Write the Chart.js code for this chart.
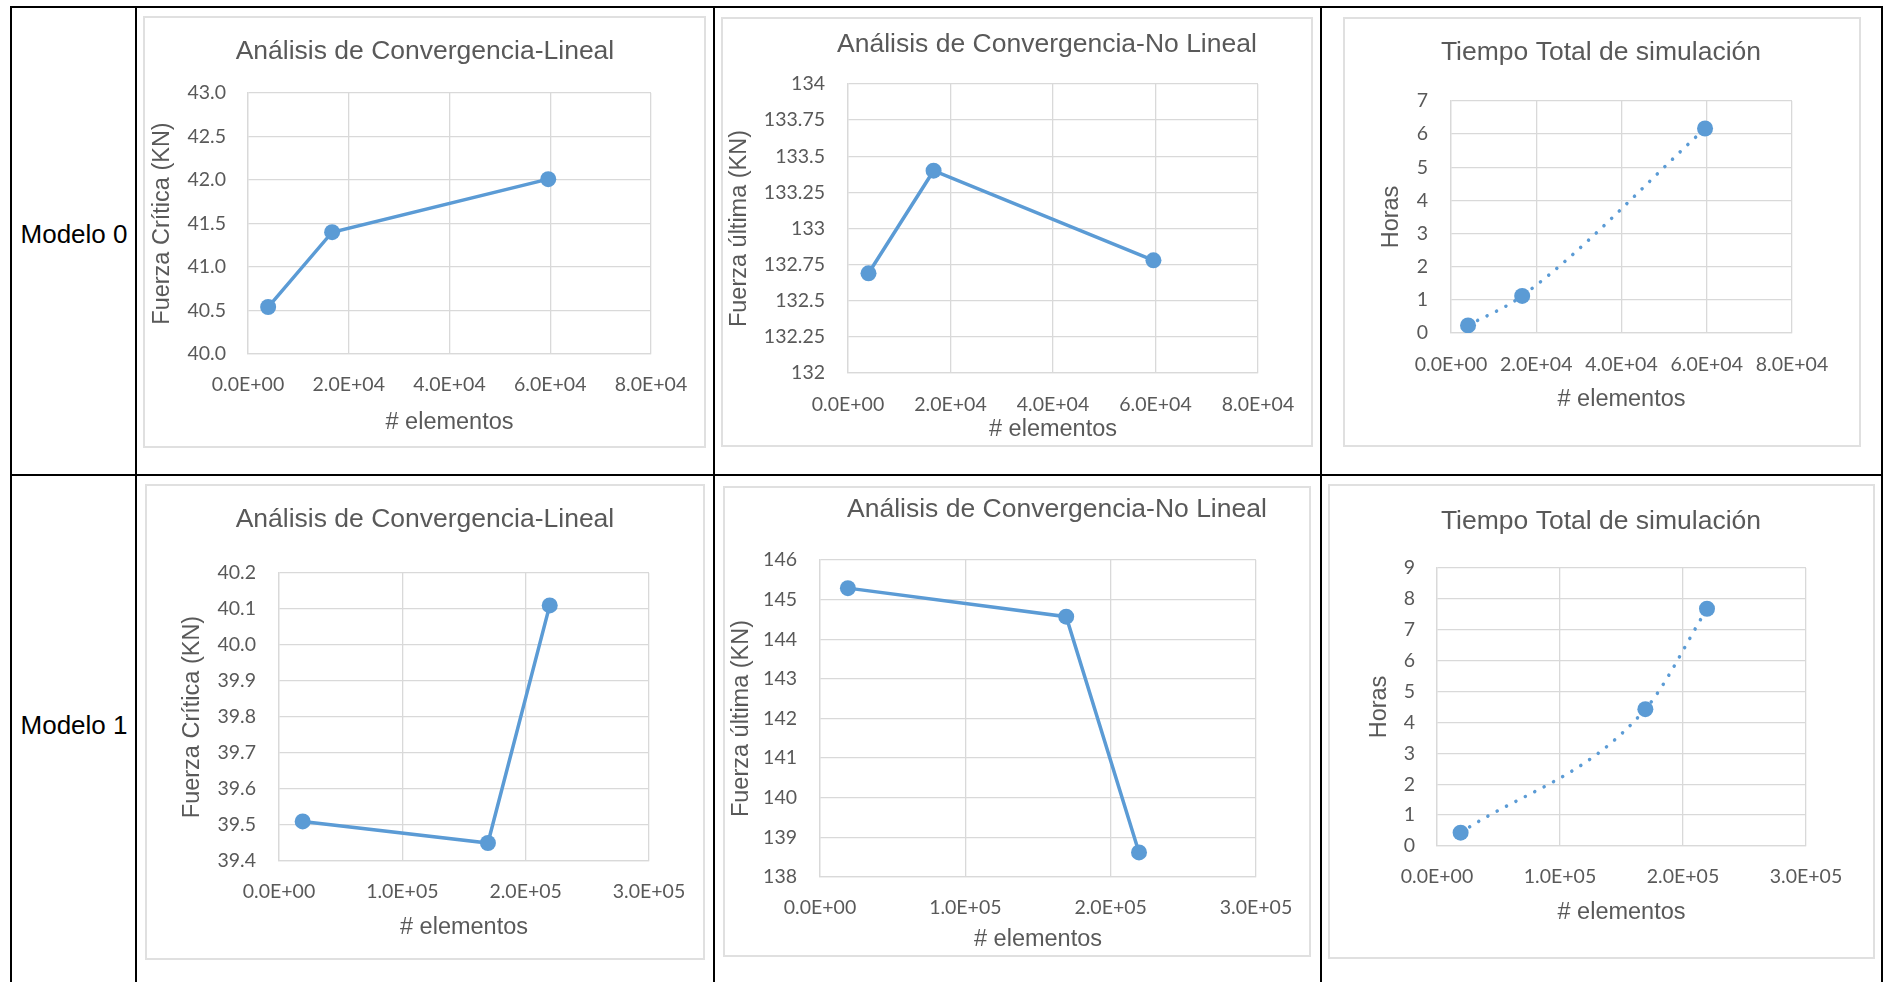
<!DOCTYPE html>
<html>
<head>
<meta charset="utf-8">
<script src="https://cdn.jsdelivr.net/npm/chart.js@4.4.1/dist/chart.umd.min.js"></script>
<style>
  body { margin: 0; background: #fff; width: 1885px; height: 982px; overflow: hidden; position: relative;
         font-family: "Liberation Sans", Arial, sans-serif; }
  .ln { position: absolute; background: #000; }
  .box { position: absolute; border: 2px solid #e0e0e0; box-sizing: border-box; }
  .lbl { position: absolute; font-size: 26px; color: #000; transform: translate(-50%, -50%); white-space: nowrap; }
  canvas { position: absolute; }
</style>
</head>
<body>
<!-- table lines -->
<div class="ln" style="left:10px;top:6px;width:1873px;height:2px"></div>
<div class="ln" style="left:10px;top:474px;width:1873px;height:2px"></div>
<div class="ln" style="left:10px;top:6px;width:2px;height:976px"></div>
<div class="ln" style="left:135px;top:6px;width:2px;height:976px"></div>
<div class="ln" style="left:713px;top:6px;width:2px;height:976px"></div>
<div class="ln" style="left:1320px;top:6px;width:2px;height:976px"></div>
<div class="ln" style="left:1881px;top:6px;width:2px;height:976px"></div>

<div class="lbl" style="left:74px;top:234px">Modelo 0</div>
<div class="lbl" style="left:74px;top:725px">Modelo 1</div>

<script>
// ---- data ----
const elementosM0 = [4000, 16700, 59600];
const fuerzaCriticaM0 = [40.54, 41.40, 42.01];
const fuerzaUltimaM0 = [132.69, 133.40, 132.78];
const horasM0 = [0.23, 1.12, 6.17];

const elementosM1 = [19200, 169400, 219500];
const fuerzaCriticaM1 = [39.51, 39.45, 40.11];
const fuerzaUltimaM1 = [145.29, 144.57, 138.62];
const horasM1 = [0.43, 4.43, 7.68];

const xTicksM0 = [0, 20000, 40000, 60000, 80000];
const xTicksM1 = [0, 100000, 200000, 300000];
const yTicksCriticaM0 = [40.0, 40.5, 41.0, 41.5, 42.0, 42.5, 43.0];
const yTicksUltimaM0 = [132, 132.25, 132.5, 132.75, 133, 133.25, 133.5, 133.75, 134];
const yTicksHorasM0 = [0, 1, 2, 3, 4, 5, 6, 7];
const yTicksCriticaM1 = [39.4, 39.5, 39.6, 39.7, 39.8, 39.9, 40.0, 40.1, 40.2];
const yTicksUltimaM1 = [138, 139, 140, 141, 142, 143, 144, 145, 146];
const yTicksHorasM1 = [0, 1, 2, 3, 4, 5, 6, 7, 8, 9];

const tituloLineal = 'Análisis de Convergencia-Lineal';
const tituloNoLineal = 'Análisis de Convergencia-No Lineal';
const tituloTiempo = 'Tiempo Total de simulación';
const ejeX = '# elementos';

// ---- look ----
const FONT = '"Liberation Sans", Arial, sans-serif';
const TICK_FONT = 'Lato, "Liberation Sans", sans-serif';
const BLUE = '#5B9BD5';
const GREY_TXT = '#595959';
const GRID = '#d9d9d9';
const TITLE_SIZE = 26.5, AXIS_SIZE = 23.5, TICK_SIZE = 19.5;

function sci(v) {
  if (v === 0) return '0.0E+00';
  const e = Math.floor(Math.log10(v) + 1e-9);
  const m = v / Math.pow(10, e);
  return m.toFixed(1) + 'E+' + String(e).padStart(2, '0');
}

function addBox(b) {
  const d = document.createElement('div');
  d.className = 'box';
  d.style.left = b[0] + 'px'; d.style.top = b[1] + 'px';
  d.style.width = (b[2] - b[0]) + 'px'; d.style.height = (b[3] - b[1]) + 'px';
  document.body.appendChild(d);
}

// lay: box, plot area, title centre, y-title x, x tick y, x title y (page px)
function makeChart(lay, opt) {
  addBox(lay.box);
  const TL = TITLE_SIZE * 1.2, AL = AXIS_SIZE * 1.2, KL = TICK_SIZE * 1.2;
  const extra = 60; // room so the last x label is not cut
  const cx = lay.box[0], cy = lay.box[1];
  const H = lay.box[3] - lay.box[1];
  const pl = lay.yTitleX - cx - AL / 2;
  const W = Math.round(2 * (lay.title[0] - cx) - pl);
  const rw = W - (lay.plot[2] - cx);
  const yw = lay.plot[0] - cx - pl;
  const xh = lay.box[3] - lay.plot[3];

  const cv = document.createElement('canvas');
  cv.width = W + extra; cv.height = H;
  cv.style.left = cx + 'px'; cv.style.top = cy + 'px';
  document.body.appendChild(cv);

  const pts = opt.xs.map((x, i) => ({ x: x, y: opt.ys[i] }));

  new Chart(cv.getContext('2d'), {
    type: 'line',
    data: {
      datasets: [{
        data: pts,
        borderColor: BLUE,
        backgroundColor: BLUE,
        borderWidth: 3.5,
        pointRadius: 8,
        pointBorderWidth: 0,
        pointBackgroundColor: BLUE,
        cubicInterpolationMode: opt.dotted ? 'monotone' : 'default',
        tension: opt.dotted ? 0.4 : 0,
        borderDash: opt.dotted ? [0.1, 10.5] : [],
        borderCapStyle: opt.dotted ? 'round' : 'butt'
      }]
    },
    options: {
      responsive: false,
      animation: false,
      layout: { padding: { left: pl, right: extra, top: 0, bottom: 0 } },
      plugins: {
        legend: { display: false },
        tooltip: { enabled: false },
        title: {
          display: true,
          text: opt.title,
          color: GREY_TXT,
          font: { family: FONT, size: TITLE_SIZE, weight: 'normal' },
          padding: { top: lay.title[1] - cy - TL / 2, bottom: lay.plot[1] - lay.title[1] - TL / 2 }
        }
      },
      scales: {
        x: {
          type: 'linear',
          position: 'bottom',
          min: opt.xTicks[0],
          max: opt.xTicks[opt.xTicks.length - 1],
          afterBuildTicks: s => { s.ticks = opt.xTicks.map(v => ({ value: v })); },
          afterFit: s => { s.height = xh; s.paddingLeft = 0; s.paddingRight = 0; },
          grid: { color: GRID, lineWidth: 1.3, drawTicks: false },
          border: { color: GRID, width: 1.3 },
          ticks: {
            color: GREY_TXT, font: { family: TICK_FONT, size: TICK_SIZE },
            padding: lay.xTickY - lay.plot[3] - KL / 2,
            maxRotation: 0, autoSkip: false,
            callback: v => sci(v)
          },
          title: {
            display: true, text: ejeX, color: GREY_TXT,
            font: { family: FONT, size: AXIS_SIZE },
            padding: { top: 0, bottom: lay.box[3] - lay.xTitleY - AL / 2 }
          }
        },
        y: {
          type: 'linear',
          position: 'left',
          min: opt.yTicks[0],
          max: opt.yTicks[opt.yTicks.length - 1],
          afterBuildTicks: s => { s.ticks = opt.yTicks.map(v => ({ value: v })); },
          afterFit: s => { s.width = yw; s.paddingTop = 0; s.paddingBottom = 0; },
          grid: { color: GRID, lineWidth: 1.3, drawTicks: false },
          border: { color: GRID, width: 1.3 },
          ticks: {
            color: GREY_TXT, font: { family: TICK_FONT, size: TICK_SIZE },
            padding: lay.yTickPad, autoSkip: false,
            callback: opt.yFmt
          },
          title: {
            display: true, text: opt.yTitle, color: GREY_TXT,
            font: { family: FONT, size: AXIS_SIZE },
            padding: { top: 0, bottom: 0 }
          }
        },
        yr: {
          type: 'linear',
          position: 'right',
          display: true,
          grid: { display: false },
          border: { display: false },
          ticks: { display: false },
          afterFit: s => { s.width = rw; s.paddingTop = 0; s.paddingBottom = 0; }
        }
      }
    }
  });
}

const fix1 = v => Number(v).toFixed(1);
const plain = v => String(v);

makeChart(
  { box: [143, 16, 706, 448], plot: [248, 93, 651, 354], title: [425, 52], yTitleX: 163, xTickY: 385, xTitleY: 423, yTickPad: 22 },
  { xs: elementosM0, ys: fuerzaCriticaM0, xTicks: xTicksM0, yTicks: yTicksCriticaM0, yFmt: fix1,
    title: tituloLineal, yTitle: 'Fuerza Crítica (KN)' });
makeChart(
  { box: [721, 17, 1313, 447], plot: [848, 84, 1258, 373], title: [1047, 45], yTitleX: 740, xTickY: 405, xTitleY: 430, yTickPad: 23 },
  { xs: elementosM0, ys: fuerzaUltimaM0, xTicks: xTicksM0, yTicks: yTicksUltimaM0, yFmt: plain,
    title: tituloNoLineal, yTitle: 'Fuerza última (KN)' });
makeChart(
  { box: [1343, 17, 1861, 447], plot: [1451, 101, 1792, 333], title: [1601, 53], yTitleX: 1392, xTickY: 365, xTitleY: 400, yTickPad: 23 },
  { xs: elementosM0, ys: horasM0, xTicks: xTicksM0, yTicks: yTicksHorasM0, yFmt: plain,
    title: tituloTiempo, yTitle: 'Horas', dotted: true });
makeChart(
  { box: [145, 484, 705, 960], plot: [279, 573, 649, 861], title: [425, 520], yTitleX: 193, xTickY: 892, xTitleY: 928, yTickPad: 23 },
  { xs: elementosM1, ys: fuerzaCriticaM1, xTicks: xTicksM1, yTicks: yTicksCriticaM1, yFmt: fix1,
    title: tituloLineal, yTitle: 'Fuerza Crítica (KN)' });
makeChart(
  { box: [723, 486, 1311, 957], plot: [820, 560, 1256, 877], title: [1057, 510], yTitleX: 742, xTickY: 908, xTitleY: 940, yTickPad: 23 },
  { xs: elementosM1, ys: fuerzaUltimaM1, xTicks: xTicksM1, yTicks: yTicksUltimaM1, yFmt: plain,
    title: tituloNoLineal, yTitle: 'Fuerza última (KN)' });
makeChart(
  { box: [1328, 484, 1875, 959], plot: [1437, 568, 1806, 846], title: [1601, 522], yTitleX: 1380, xTickY: 877, xTitleY: 913, yTickPad: 22 },
  { xs: elementosM1, ys: horasM1, xTicks: xTicksM1, yTicks: yTicksHorasM1, yFmt: plain,
    title: tituloTiempo, yTitle: 'Horas', dotted: true });
</script>
</body>
</html>
